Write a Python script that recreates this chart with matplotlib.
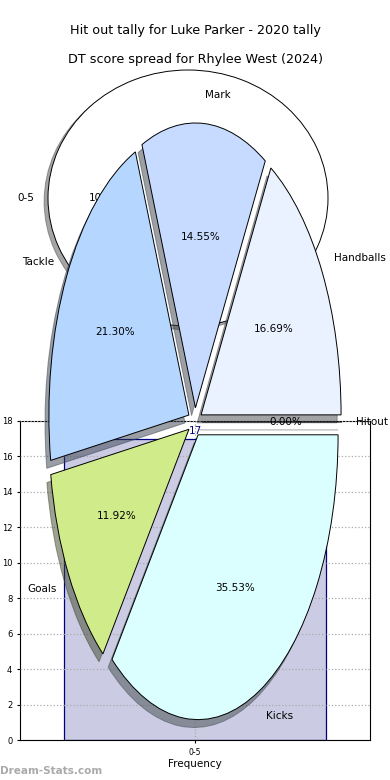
import matplotlib.pyplot as plt

# bar chart data
bins = ['0-5']
counts = [17]

# tally pie data
tally_labels = ['0-5']
tally_values = [17]

# DT score spread pie
dt_labels = ['Handballs', 'Mark', 'Tackle', 'Goals', 'Kicks', 'Hitout']
dt_values = [16.69, 14.55, 21.30, 11.92, 35.53, 0.00]
dt_colors = ['#eaf1ff', '#c6dbff', '#b4d6ff', '#d0eb8a', '#dbffff', '#ffffff']


def make_chart():
    fig = plt.figure(figsize=(3.9, 7.8), dpi=100)

    # histogram-like bar chart
    ax = fig.add_axes([20 / 390, 40 / 780, 350 / 390, 319 / 780])
    bars = ax.bar(range(len(bins)), counts, width=0.75, color='#cbcbe4',
                  edgecolor='navy', linewidth=0.9)
    for b, c in zip(bars, counts):
        ax.text(b.get_x() + b.get_width() / 2, c + 0.15, str(c), ha='center',
                va='bottom', color='navy', fontsize=7.5)
    ax.set_xlim(-0.5, 0.5)
    ax.set_ylim(0, 18)
    ax.set_yticks(range(0, 19, 2))
    ax.set_xticks(range(len(bins)))
    ax.set_xticklabels(bins)
    ax.tick_params(axis='y', labelsize=6, length=2)
    ax.tick_params(axis='x', labelsize=5.5, length=2)
    ax.grid(True, linestyle=':', color='#aaaaaa', linewidth=0.9)
    ax.set_axisbelow(False)
    ax.set_xlabel('Frequency', fontsize=7.5, labelpad=2)
    ax.set_ylabel('Distribution', fontsize=7, labelpad=2)

    # single-slice tally pie
    ax2 = fig.add_axes([20 / 390, 422 / 780, 350 / 390, 320 / 780])
    ax2.pie(tally_values, labels=tally_labels, autopct='%1.0f%%',
            colors=['white'], explode=[0.05], shadow=True,
            wedgeprops={'edgecolor': 'black', 'linewidth': 0.7},
            textprops={'fontsize': 7.5})
    ax2.set_aspect('auto')
    ax2.set_title('Hit out tally for Luke Parker - 2020 tally', fontsize=9.2,
                  pad=3)

    # DT score spread pie
    ax3 = fig.add_axes([20 / 390, 2 / 780, 350 / 390, 712 / 780])
    ax3.pie(dt_values, labels=dt_labels, autopct='%1.2f%%', colors=dt_colors,
            explode=[0.05] * len(dt_values), shadow=True, startangle=0,
            wedgeprops={'edgecolor': 'black', 'linewidth': 0.7},
            textprops={'fontsize': 7.5})
    ax3.set_aspect('auto')
    ax3.set_title('DT score spread for Rhylee West (2024)', fontsize=9.2,
                  pad=1)

    fig.text(0.0, 0.005, 'Dream-Stats.com', fontsize=7.5, fontweight='bold',
             color='#aaaaaa', ha='left', va='bottom')

    fig.savefig('out.png', dpi=100)
    plt.close(fig)


if __name__ == '__main__':
    make_chart()
